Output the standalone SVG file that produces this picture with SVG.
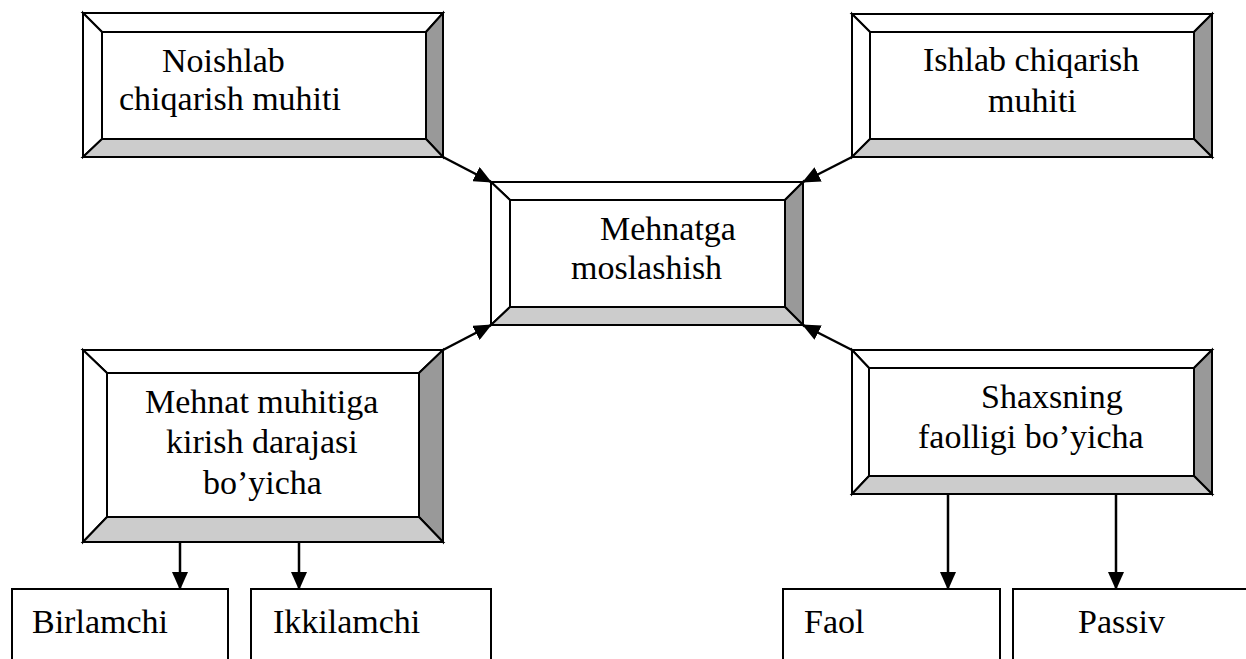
<svg xmlns="http://www.w3.org/2000/svg" width="1246" height="659" viewBox="0 0 1246 659">
<style>
.w{fill:#fff;stroke:#000;stroke-width:2;stroke-linejoin:miter}
.r{fill:#999;stroke:#000;stroke-width:2}
.b{fill:#ccc;stroke:#000;stroke-width:2}
.c{stroke:#000;stroke-width:2.5;fill:none}
.box{fill:#fff;stroke:#000;stroke-width:2}
.t{font-family:'Liberation Serif','Times New Roman',serif;font-size:34px;fill:#000}
</style>
<defs>
<marker id="ah" markerWidth="18" markerHeight="16" refX="17" refY="8" orient="auto" markerUnits="userSpaceOnUse">
<path d="M0,0 L18,8 L0,16 Z" fill="#000"/>
</marker>
</defs>
<rect width="1246" height="659" fill="#fff"/>

<g id="connectors">
<line class="c" x1="443" y1="157" x2="491" y2="182" marker-end="url(#ah)"/>
<line class="c" x1="852" y1="157" x2="803" y2="182" marker-end="url(#ah)"/>
<line class="c" x1="443" y1="350" x2="491" y2="325" marker-end="url(#ah)"/>
<line class="c" x1="852" y1="350" x2="803" y2="325" marker-end="url(#ah)"/>
<line class="c" x1="180" y1="542" x2="180" y2="589" marker-end="url(#ah)"/>
<line class="c" x1="299" y1="542" x2="299" y2="589" marker-end="url(#ah)"/>
<line class="c" x1="948" y1="494" x2="948" y2="589" marker-end="url(#ah)"/>
<line class="c" x1="1116" y1="494" x2="1116" y2="589" marker-end="url(#ah)"/>
</g>

<g id="noishlab">
<polygon class="w" points="83,13 443,13 426,32 102,32"/>
<polygon class="w" points="83,13 102,32 102,139 83,157"/>
<polygon class="r" points="443,13 443,157 426,139 426,32"/>
<polygon class="b" points="83,157 102,139 426,139 443,157"/>
<rect class="w" x="102" y="32" width="324" height="107"/>
<text class="t" x="162" y="72">Noishlab</text>
<text class="t" x="119" y="110">chiqarish muhiti</text>
</g>

<g id="ishlab">
<polygon class="w" points="852,14 1212,14 1194,32 870,32"/>
<polygon class="w" points="852,14 870,32 870,139 852,157"/>
<polygon class="r" points="1212,14 1212,157 1194,139 1194,32"/>
<polygon class="b" points="852,157 870,139 1194,139 1212,157"/>
<rect class="w" x="870" y="32" width="324" height="107"/>
<text class="t" x="923" y="71">Ishlab chiqarish</text>
<text class="t" x="988" y="112">muhiti</text>
</g>

<g id="mehnatga">
<polygon class="w" points="491,182 803,182 785,200 510,200"/>
<polygon class="w" points="491,182 510,200 510,307 491,325"/>
<polygon class="r" points="803,182 803,325 785,307 785,200"/>
<polygon class="b" points="491,325 510,307 785,307 803,325"/>
<rect class="w" x="510" y="200" width="275" height="107"/>
<text class="t" x="600" y="240">Mehnatga</text>
<text class="t" x="571" y="279">moslashish</text>
</g>

<g id="mehnat-muhitiga">
<polygon class="w" points="83,350 443,350 419,373 107,373"/>
<polygon class="w" points="83,350 107,373 107,517 83,542"/>
<polygon class="r" points="443,350 443,542 419,517 419,373"/>
<polygon class="b" points="83,542 107,517 419,517 443,542"/>
<rect class="w" x="107" y="373" width="312" height="144"/>
<text class="t" x="145" y="413">Mehnat muhitiga</text>
<text class="t" x="166" y="453">kirish darajasi</text>
<text class="t" x="203" y="494">bo’yicha</text>
</g>

<g id="shaxsning">
<polygon class="w" points="852,350 1212,350 1194,368 869,368"/>
<polygon class="w" points="852,350 869,368 869,476 852,494"/>
<polygon class="r" points="1212,350 1212,494 1194,476 1194,368"/>
<polygon class="b" points="852,494 869,476 1194,476 1212,494"/>
<rect class="w" x="869" y="368" width="325" height="108"/>
<text class="t" x="981" y="408">Shaxsning</text>
<text class="t" x="918" y="448">faolligi bo’yicha</text>
</g>

<g id="birlamchi">
<rect class="box" x="12" y="589" width="216" height="90"/>
<text class="t" x="32" y="633">Birlamchi</text>
</g>
<g id="ikkilamchi">
<rect class="box" x="251" y="589" width="240" height="90"/>
<text class="t" x="273" y="633">Ikkilamchi</text>
</g>
<g id="faol">
<rect class="box" x="783" y="589" width="217" height="90"/>
<text class="t" x="804" y="633">Faol</text>
</g>
<g id="passiv">
<rect class="box" x="1013" y="589" width="260" height="90"/>
<text class="t" x="1078" y="633">Passiv</text>
</g>
</svg>
